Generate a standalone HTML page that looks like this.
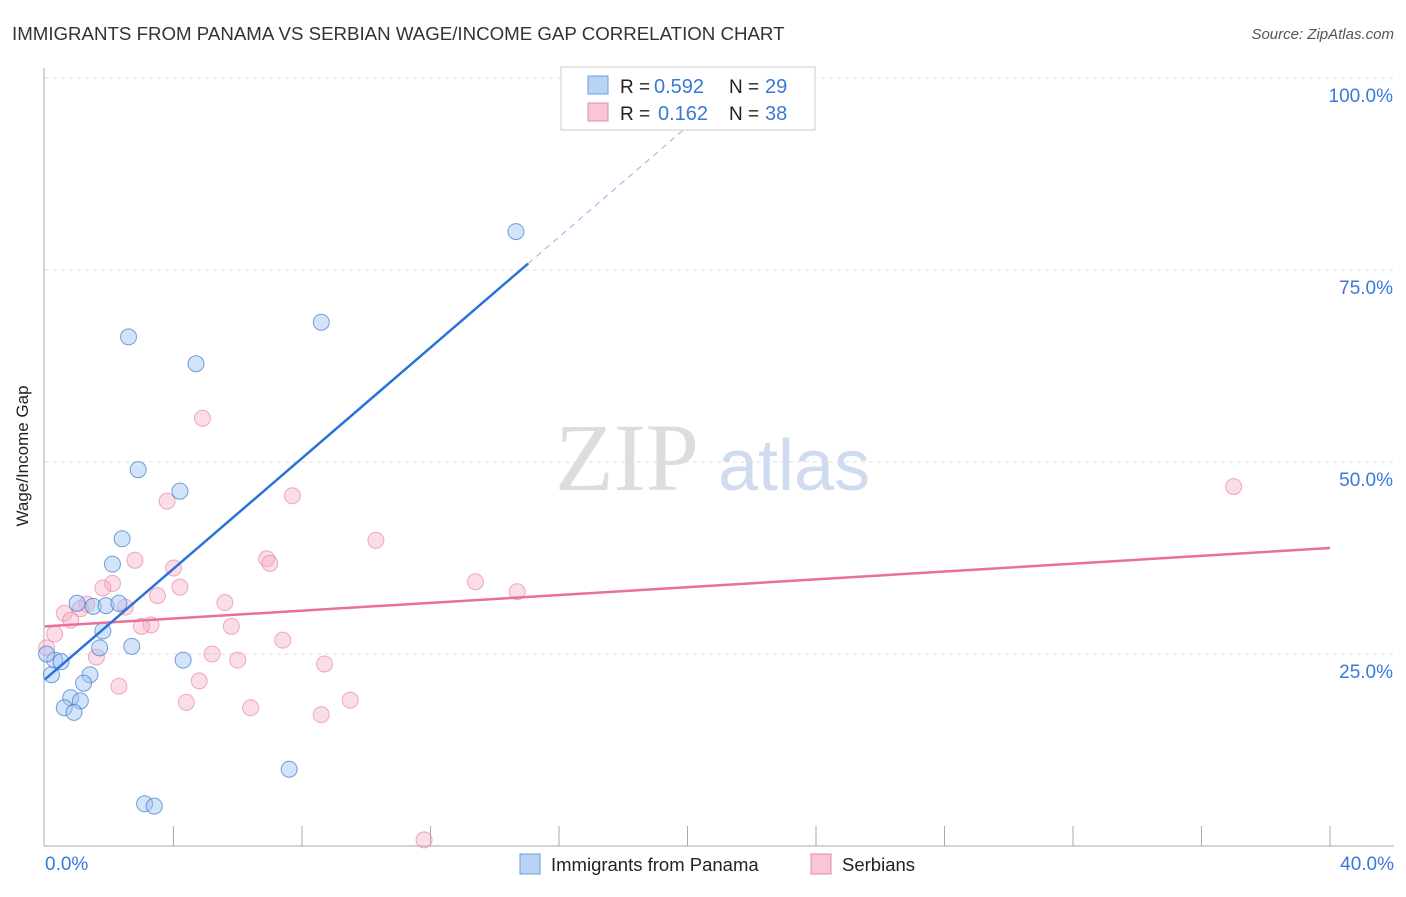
<!DOCTYPE html>
<html><head><meta charset="utf-8"><style>
body{margin:0;background:#fff;font-family:"Liberation Sans",sans-serif;}
</style></head><body>
<svg width="1406" height="892" xmlns="http://www.w3.org/2000/svg">
<text x="12" y="40" font-size="18.7" fill="#333">IMMIGRANTS FROM PANAMA VS SERBIAN WAGE/INCOME GAP CORRELATION CHART</text>
<text x="1394" y="39" font-size="15" fill="#555" font-style="italic" text-anchor="end">Source: ZipAtlas.com</text>
<text x="555" y="490" font-size="96" fill="#ddd" font-family="Liberation Serif,serif">ZIP</text>
<text x="718" y="490" font-size="72" fill="#cfdcf0">atlas</text>
<g id="grid"></g>
<line x1="44" y1="68" x2="44" y2="846" stroke="#aaa"/>
<line x1="44" y1="846" x2="1394" y2="846" stroke="#aaa"/>
<text x="28" y="456" font-size="17" fill="#222" transform="rotate(-90 28 456)" text-anchor="middle">Wage/Income Gap</text>
<g id="marks"></g>
<g>
<rect x="561" y="67" width="254" height="63" fill="#fff" stroke="#ccc"/>
<rect x="588" y="76" width="20" height="18" fill="#b9d3f5" stroke="#6a9be0"/>
<rect x="588" y="103" width="20" height="18" fill="#f9c6d5" stroke="#e889a8"/>
<text x="620" y="93" font-size="19" fill="#222">R =</text>
<text x="654" y="93" font-size="20" fill="#3a78d8">0.592</text>
<text x="729" y="93" font-size="19" fill="#222">N =</text>
<text x="765" y="93" font-size="20" fill="#3a78d8">29</text>
<text x="620" y="120" font-size="19" fill="#222">R =</text>
<text x="658" y="120" font-size="20" fill="#3a78d8">0.162</text>
<text x="729" y="120" font-size="19" fill="#222">N =</text>
<text x="765" y="120" font-size="20" fill="#3a78d8">38</text>
</g>
<g>
<rect x="520" y="854" width="20" height="20" fill="#b9d3f5" stroke="#6a9be0"/>
<text x="551" y="871" font-size="18.5" fill="#222">Immigrants from Panama</text>
<rect x="811" y="854" width="20" height="20" fill="#f9c6d5" stroke="#e889a8"/>
<text x="842" y="871" font-size="18.5" fill="#222">Serbians</text>
</g>
<text x="45" y="870" font-size="19" fill="#3a78d8">0.0%</text>
<text x="1394" y="870" font-size="19" fill="#3a78d8" text-anchor="end">40.0%</text>
</svg>
<script>
const yTicks=[25,50,75,100];
const blueX=[14.66,8.6,2.6,4.7,2.9,4.2,2.4,2.1,1.0,1.5,1.9,2.3,1.8,2.7,1.7,4.3,0.3,0.5,0.2,1.4,1.2,0.8,1.1,0.6,0.9,7.6,3.1,3.4,0.05];
const blueY=[80,68.2,66.3,62.8,49.0,46.2,40.0,36.7,31.6,31.2,31.3,31.6,28.0,26.0,25.8,24.2,24.2,24.0,22.3,22.3,21.2,19.3,18.9,18.0,17.4,10.0,5.5,5.2,25];
const pinkX=[4.9,3.8,7.7,37.0,10.3,2.8,6.9,7.0,13.4,14.7,4.0,4.2,2.1,1.8,3.5,5.6,1.3,0.6,1.1,2.5,0.8,3.3,3.0,5.8,7.4,0.3,5.2,6.0,1.6,8.7,0.05,4.8,2.3,4.4,9.5,6.4,8.6,11.8];
const pinkY=[55.7,44.9,45.6,46.8,39.8,37.2,37.4,36.8,34.4,33.1,36.2,33.7,34.2,33.6,32.6,31.7,31.5,30.3,30.9,31.1,29.4,28.8,28.6,28.6,26.8,27.6,25.0,24.2,24.6,23.7,25.8,21.5,20.8,18.7,19.0,18.0,17.1,0.8];
const blueTrend=[21.7,3.6];
const pinkTrend=[28.6,0.255];
const X=v=>45+v/40*1285, Y=v=>846-v/100*768;
const ns="http://www.w3.org/2000/svg";
const g=document.getElementById('grid'), m=document.getElementById('marks');
function mk(t,a,p){const e=document.createElementNS(ns,t);for(const k in a)e.setAttribute(k,a[k]);p.appendChild(e);return e;}
yTicks.forEach(t=>{
 const l=mk('line',{x1:45,x2:1394,y1:Y(t),y2:Y(t),stroke:'#ddd','stroke-dasharray':'4,4'},g);
 
 
 const tx=mk('text',{x:1393,y:Y(t)+24,'font-size':19,fill:'#3a78d8','text-anchor':'end'},g);
 tx.textContent=t.toFixed(1)+'%';
 
 
});
for(let i=1;i<=10;i++){const l=mk('line',{x1:X(i*4),x2:X(i*4),y1:826,y2:846,stroke:'#aaa'},g);
 
 }
pinkX.forEach((x,i)=>{const c=mk('circle',{cx:X(x),cy:Y(pinkY[i]),r:8,fill:'rgba(246,170,195,0.4)',stroke:'rgba(230,120,155,0.6)'},m);
 
 });
blueX.forEach((x,i)=>{const c=mk('circle',{cx:X(x),cy:Y(blueY[i]),r:8,fill:'rgba(160,195,240,0.45)',stroke:'rgba(60,120,210,0.7)'},m);
 
 });
const [pa,pb]=pinkTrend;
const pl=mk('line',{x1:X(0),y1:Y(pa),x2:X(40),y2:Y(pa+pb*40),stroke:'#e8709a','stroke-width':2.5},m);


const [ba,bb]=blueTrend;
const xe=15.04, xd=Math.min(40,(98.4-ba)/bb);
const bl=mk('line',{x1:X(0),y1:Y(ba),x2:X(xe),y2:Y(ba+bb*xe),stroke:'#2a72d8','stroke-width':2.5},m);


const bd=mk('line',{x1:X(xe),y1:Y(ba+bb*xe),x2:X(xd),y2:Y(ba+bb*xd),stroke:'#8fb3e8','stroke-width':1,'stroke-dasharray':'6,5'},m);


</script>
</body></html>
